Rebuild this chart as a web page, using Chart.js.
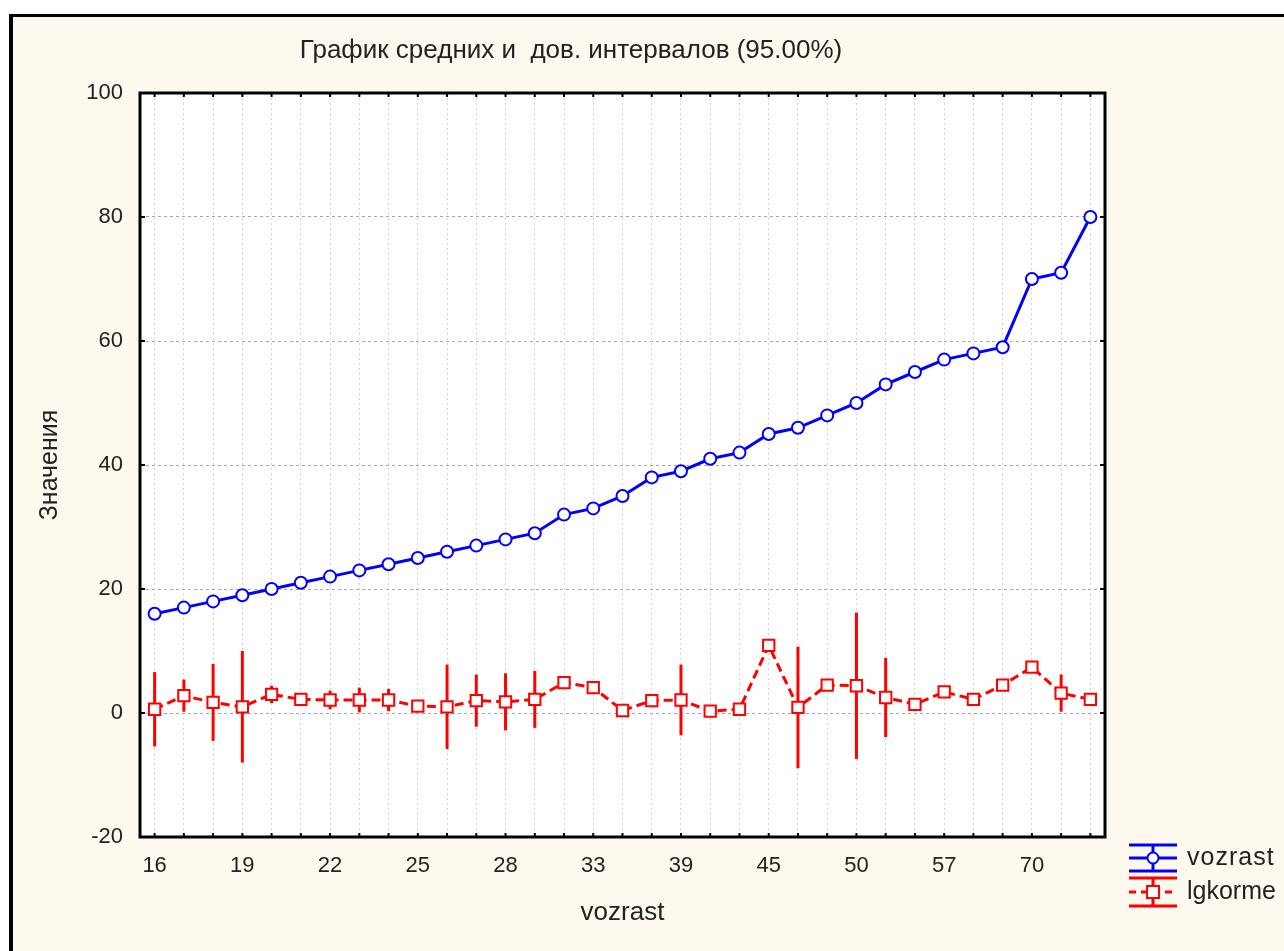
<!DOCTYPE html>
<html>
<head>
<meta charset="utf-8">
<script src="https://cdn.jsdelivr.net/npm/chart.js@4.4.0/dist/chart.umd.min.js"></script>
<style>
  body { margin: 0; background: #fff; }
  #wrap { position: relative; width: 1284px; height: 951px; overflow: hidden; }
  #frame { position: absolute; left: 9px; top: 14px; right: 0; bottom: 0; background: #fdf9ee;
           border-left: 4px solid #000; border-top: 3px solid #000; }
  canvas { position: absolute; left: 0; top: 0; }
</style>
</head>
<body>
<div id="wrap"><div id="frame"></div><canvas id="myChart" width="1284" height="951"></canvas></div>
<script>
// categories of vozrast
var categories = ["16","17","18","19","20","21","22","23","24","25","26","27","28","29","32","33",
  "35","38","39","41","42","45","46","48","50","53","55","57","58","59","70","71","80"];

// vozrast means (no spread inside a group)
var vozrastMean = [16,17,18,19,20,21,22,23,24,25,26,27,28,29,32,33,35,38,39,41,42,45,46,48,50,53,55,57,58,59,70,71,80];
var vozrastErr = [0,0,0,0,0,0,0,0,0,0,0,0,0,0,0,0,0,0,0,0,0,0,0,0,0,0,0,0,0,0,0,0,0];

// lgkorme means and half width of 95% interval
var lgkormeMean = [0.6,2.8,1.7,1.0,3.0,2.2,2.1,2.1,2.1,1.1,1.0,2.0,1.8,2.2,4.9,4.1,0.4,2.0,2.1,0.3,0.6,10.9,0.9,4.5,4.4,2.5,1.4,3.4,2.2,4.5,7.4,3.2,2.2];
var lgkormeErr = [6.0,2.6,6.2,9.0,1.4,0.9,1.5,2.0,1.8,0.5,6.8,4.2,4.6,4.6,0,0.5,0,0.8,5.7,0,0.3,0.6,9.8,0,11.8,6.4,0.8,0,0.8,0,0.5,3.0,0];

var yMin = -20, yMax = 100, yStep = 20;

Chart.defaults.font.family = "'Liberation Sans', Arial, sans-serif";
Chart.defaults.color = "#222";

const ctx = document.getElementById("myChart");

// white plot area
const plotBg = {
  id: "plotBg",
  beforeDraw(chart) {
    const { ctx, chartArea: a } = chart;
    ctx.save();
    ctx.fillStyle = "#fff";
    ctx.fillRect(a.left, a.top, a.right - a.left, a.bottom - a.top);
    ctx.restore();
  },
};

// vertical interval lines
const errorBars = {
  id: "errorBars",
  beforeDatasetsDraw(chart) {
    const { ctx, scales: { x, y } } = chart;
    chart.data.datasets.forEach((ds) => {
      ds.data.forEach((v, i) => {
        const e = ds.err[i];
        if (!e) return;
        const px = x.getPixelForValue(i);
        ctx.save();
        ctx.strokeStyle = ds.borderColor;
        ctx.lineWidth = 3;
        ctx.beginPath();
        ctx.moveTo(px, y.getPixelForValue(v + e));
        ctx.lineTo(px, y.getPixelForValue(v - e));
        ctx.stroke();
        ctx.restore();
      });
    });
  },
};

// frame, inner ticks, title, legend
const decor = {
  id: "decor",
  afterDraw(chart) {
    const { ctx, chartArea: a, scales: { x, y } } = chart;
    ctx.save();
    ctx.strokeStyle = "#000";
    ctx.lineWidth = 3;
    ctx.strokeRect(a.left, a.top, a.right - a.left, a.bottom - a.top);

    ctx.lineWidth = 2;
    ctx.beginPath();
    categories.forEach((c, i) => {
      const px = x.getPixelForValue(i);
      ctx.moveTo(px, a.top); ctx.lineTo(px, a.top + 4);
      ctx.moveTo(px, a.bottom); ctx.lineTo(px, a.bottom - 4);
    });
    for (let t = yMin; t <= yMax; t += yStep) {
      const py = y.getPixelForValue(t);
      ctx.moveTo(a.left, py); ctx.lineTo(a.left + 5, py);
      ctx.moveTo(a.right, py); ctx.lineTo(a.right - 5, py);
    }
    ctx.stroke();

    // title
    ctx.fillStyle = "#222";
    ctx.font = "26px 'Liberation Sans', Arial, sans-serif";
    ctx.textAlign = "center";
    ctx.textBaseline = "middle";
    ctx.fillText("График средних и  дов. интервалов (95.00%)", 571, 51);

    // legend
    const lx0 = 1129, lx1 = 1177, cx = 1153;
    ctx.lineWidth = 3;
    ctx.strokeStyle = "#0000ff";
    ctx.beginPath();
    ctx.moveTo(lx0, 845); ctx.lineTo(lx1, 845);
    ctx.moveTo(lx0, 858); ctx.lineTo(lx1, 858);
    ctx.moveTo(lx0, 871); ctx.lineTo(lx1, 871);
    ctx.moveTo(cx, 845); ctx.lineTo(cx, 871);
    ctx.stroke();
    ctx.fillStyle = "#fff";
    ctx.lineWidth = 2;
    ctx.beginPath(); ctx.arc(cx, 858, 5.5, 0, Math.PI * 2); ctx.fill(); ctx.stroke();

    ctx.strokeStyle = "#ff0000";
    ctx.lineWidth = 3;
    ctx.beginPath();
    ctx.moveTo(lx0, 878); ctx.lineTo(lx1, 878);
    ctx.moveTo(lx0, 906); ctx.lineTo(lx1, 906);
    ctx.moveTo(cx, 878); ctx.lineTo(cx, 906);
    ctx.stroke();
    ctx.setLineDash([7, 5]);
    ctx.beginPath();
    ctx.moveTo(lx0, 892); ctx.lineTo(lx1, 892);
    ctx.stroke();
    ctx.setLineDash([]);
    ctx.lineWidth = 2;
    ctx.fillRect(cx - 6, 886, 12, 12);
    ctx.strokeRect(cx - 6, 886, 12, 12);

    ctx.fillStyle = "#222";
    ctx.font = "25px 'Liberation Sans', Arial, sans-serif";
    ctx.textAlign = "left";
    ctx.letterSpacing = "1px";
    ctx.fillText("vozrast", 1187, 858);
    ctx.letterSpacing = "0px";
    ctx.fillText("lgkorme", 1187, 892);
    ctx.restore();
  },
};

const config = {
  type: "line",
  data: {
    labels: categories,
    datasets: [
      {
        label: "vozrast",
        data: vozrastMean,
        err: vozrastErr,
        borderColor: "#0000ff",
        backgroundColor: "#fff",
        borderWidth: 3,
        pointStyle: "circle",
        pointRadius: 6,
        pointBorderWidth: 2,
        pointBackgroundColor: "#fff",
        fill: false,
        tension: 0,
      },
      {
        label: "lgkorme",
        data: lgkormeMean,
        err: lgkormeErr,
        borderColor: "#ff0000",
        backgroundColor: "#fff",
        borderWidth: 3,
        borderDash: [9, 5],
        pointStyle: "rect",
        pointRadius: 8,
        pointBorderWidth: 2,
        pointBackgroundColor: "#fff",
        fill: false,
        tension: 0,
      },
    ],
  },
  options: {
    responsive: false,
    animation: false,
    layout: { padding: { top: 93, right: 179, left: 0, bottom: 0 } },
    plugins: {
      legend: { display: false },
      tooltip: { enabled: false },
    },
    scales: {
      x: {
        offset: true,
        afterFit: (s) => { s.height = 114; },
        grid: { color: "#d4d4d4", lineWidth: 1, drawTicks: false, offset: false },
        border: { display: false, dash: [2, 3] },
        ticks: {
          autoSkip: false,
          maxRotation: 0,
          padding: 16,
          font: { size: 22 },
          color: "#222",
          callback: function (val, i) { return i % 3 === 0 ? categories[i] : ""; },
        },
        title: { display: true, text: "vozrast", font: { size: 26 }, color: "#222", padding: { top: 0, bottom: 23 } },
      },
      y: {
        min: yMin,
        max: yMax,
        afterFit: (s) => { s.width = 140; },
        grid: { color: "#a8a8a8", lineWidth: 1, drawTicks: false },
        border: { display: false, dash: [3, 3] },
        ticks: { stepSize: yStep, padding: 17, font: { size: 22 }, color: "#222" },
        title: { display: true, text: "Значения", font: { size: 25 }, color: "#222", padding: { top: 35, bottom: 0 } },
      },
    },
  },
  plugins: [plotBg, errorBars, decor],
};

var chart = new Chart(ctx, config);
</script>
</body>
</html>
